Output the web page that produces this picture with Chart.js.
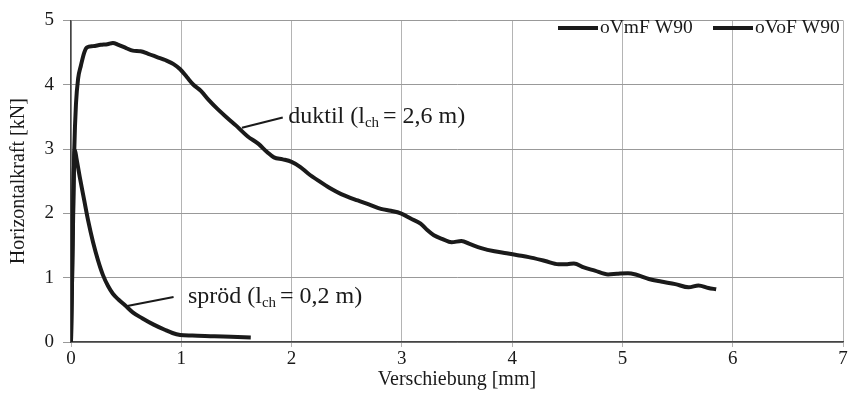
<!DOCTYPE html>
<html>
<head>
<meta charset="utf-8">
<script src="https://cdn.jsdelivr.net/npm/chart.js@4.4.1/dist/chart.umd.min.js"></script>
<style>
  html, body { margin: 0; padding: 0; background: #fff; }
  #wrap { width: 852px; height: 398px; }
</style>
</head>
<body>
<div id="wrap"><canvas id="forceChart"></canvas></div>
<script>
// displacement [mm] / horizontal force [kN]
const duktilX = [0, 0.01, 0.02, 0.03, 0.045, 0.065, 0.09, 0.12, 0.145, 0.2, 0.27, 0.33, 0.38, 0.43, 0.5, 0.56, 0.63, 0.7, 0.78, 0.86, 0.93, 0.99, 1.05, 1.11, 1.18, 1.25, 1.33, 1.42, 1.5, 1.6, 1.7, 1.78, 1.84, 1.92, 2.0, 2.08, 2.15, 2.25, 2.35, 2.45, 2.6, 2.7, 2.81, 2.9, 2.99, 3.08, 3.17, 3.23, 3.29, 3.37, 3.45, 3.54, 3.62, 3.72, 3.84, 3.95, 4.05, 4.15, 4.3, 4.42, 4.5, 4.56, 4.65, 4.75, 4.87, 4.95, 5.05, 5.12, 5.24, 5.35, 5.48, 5.6, 5.69, 5.78, 5.85];
const duktilY = [0, 1.0, 2.0, 3.0, 3.7, 4.1, 4.3, 4.5, 4.58, 4.6, 4.62, 4.63, 4.65, 4.62, 4.57, 4.53, 4.52, 4.48, 4.43, 4.38, 4.32, 4.24, 4.12, 4.0, 3.9, 3.76, 3.62, 3.48, 3.36, 3.2, 3.08, 2.95, 2.87, 2.84, 2.8, 2.72, 2.62, 2.5, 2.39, 2.3, 2.2, 2.14, 2.07, 2.04, 2.0, 1.92, 1.84, 1.74, 1.66, 1.6, 1.55, 1.57, 1.52, 1.46, 1.41, 1.38, 1.35, 1.32, 1.26, 1.21, 1.21, 1.22, 1.16, 1.11, 1.05, 1.06, 1.07, 1.05, 0.98, 0.94, 0.9, 0.85, 0.88, 0.84, 0.82];

const sproedX = [0, 0.01, 0.02, 0.03, 0.036, 0.05, 0.08, 0.12, 0.155, 0.2, 0.245, 0.29, 0.336, 0.38, 0.43, 0.49, 0.56, 0.645, 0.75, 0.85, 0.92, 0.99, 1.1, 1.3, 1.45, 1.63];
const sproedY = [0, 1.0, 2.2, 2.9, 2.98, 2.85, 2.56, 2.2, 1.89, 1.55, 1.27, 1.04, 0.87, 0.75, 0.66, 0.57, 0.46, 0.37, 0.27, 0.19, 0.14, 0.11, 0.1, 0.09, 0.08, 0.07];

const seriesNames = ['oVmF W90', 'oVoF W90'];
const xTicks = [0, 1, 2, 3, 4, 5, 6, 7];
const yTicks = [0, 1, 2, 3, 4, 5];

// annotation labels: leader line from -> to, text anchor (data units)
const notes = [
  { main: 'duktil (l', sub: 'ch', rest: ' = 2,6 m)', from: [1.55, 3.33], to: [1.92, 3.49], text: [1.97, 3.40] },
  { main: 'spröd (l', sub: 'ch', rest: ' = 0,2 m)', from: [0.51, 0.56], to: [0.93, 0.70], text: [1.06, 0.60] }
];

const serif = '"Liberation Serif", "DejaVu Serif", serif';
const ink = '#1a1a1a';

const toPoints = (xs, ys) => xs.map((x, i) => ({ x, y: ys[i] }));

const notesPlugin = {
  id: 'notes',
  afterDatasetsDraw(chart) {
    const { ctx, scales: { x, y } } = chart;
    ctx.save();
    ctx.strokeStyle = ink;
    ctx.fillStyle = ink;
    ctx.lineWidth = 2;
    notes.forEach(n => {
      ctx.beginPath();
      ctx.moveTo(x.getPixelForValue(n.from[0]), y.getPixelForValue(n.from[1]));
      ctx.lineTo(x.getPixelForValue(n.to[0]), y.getPixelForValue(n.to[1]));
      ctx.stroke();

      let px = x.getPixelForValue(n.text[0]);
      const py = y.getPixelForValue(n.text[1]);
      ctx.textBaseline = 'alphabetic';
      ctx.textAlign = 'left';
      ctx.font = '24px ' + serif;
      ctx.fillText(n.main, px, py);
      px += ctx.measureText(n.main).width;
      ctx.font = '15px ' + serif;
      ctx.fillText(n.sub, px, py + 4);
      px += ctx.measureText(n.sub).width - 2;
      ctx.font = '24px ' + serif;
      ctx.fillText(n.rest, px, py);
    });
    ctx.restore();
  }
};

const legendPlugin = {
  id: 'topLegend',
  afterDraw(chart) {
    const { ctx } = chart;
    const starts = [558, 713];
    ctx.save();
    ctx.font = '19.5px ' + serif;
    ctx.textBaseline = 'middle';
    ctx.fillStyle = ink;
    chart.data.datasets.forEach((ds, i) => {
      const x0 = starts[i], yc = 28;
      ctx.strokeStyle = ink;
      ctx.lineWidth = 4;
      ctx.beginPath();
      ctx.moveTo(x0, yc);
      ctx.lineTo(x0 + 40, yc);
      ctx.stroke();
      ctx.fillText(ds.label, x0 + 42, yc);
    });
    ctx.restore();
  }
};

const ctx = document.getElementById('forceChart').getContext('2d');
new Chart(ctx, {
  type: 'scatter',
  data: {
    datasets: [
      {
        label: seriesNames[0],
        data: toPoints(duktilX, duktilY),
        showLine: true,
        borderColor: ink,
        borderWidth: 4,
        pointRadius: 0,
        cubicInterpolationMode: 'monotone'
      },
      {
        label: seriesNames[1],
        data: toPoints(sproedX, sproedY),
        showLine: true,
        borderColor: ink,
        borderWidth: 4,
        pointRadius: 0,
        cubicInterpolationMode: 'monotone'
      }
    ]
  },
  options: {
    responsive: true,
    maintainAspectRatio: false,
    animation: false,
    layout: { padding: { top: 20, right: 9, left: 0, bottom: 0 } },
    plugins: {
      legend: { display: false },
      tooltip: { enabled: false }
    },
    scales: {
      x: {
        type: 'linear',
        min: 0,
        max: 7,
        afterBuildTicks: s => { s.ticks = xTicks.map(v => ({ value: v })); },
        afterFit: s => { s.height = 56; },
        grid: { color: '#b4b4b4', lineWidth: 1, tickLength: 5, drawTicks: true },
        border: { color: '#444', width: 1.5 },
        ticks: { color: ink, font: { family: serif, size: 19 }, padding: 1 },
        title: { display: true, text: 'Verschiebung [mm]', color: ink, font: { family: serif, size: 20 }, padding: { top: 0, bottom: 6 } }
      },
      y: {
        min: 0,
        max: 5,
        afterBuildTicks: s => { s.ticks = yTicks.map(v => ({ value: v })); },
        afterFit: s => { s.width = 71; },
        grid: { color: '#999', lineWidth: 1, tickLength: 8 },
        border: { color: '#444', width: 1.5 },
        ticks: { color: ink, font: { family: serif, size: 19 }, padding: 9 },
        title: { display: true, text: 'Horizontalkraft [kN]', color: ink, font: { family: serif, size: 20 }, padding: { top: 7, bottom: 0 } }
      }
    }
  },
  plugins: [notesPlugin, legendPlugin]
});
</script>
</body>
</html>
